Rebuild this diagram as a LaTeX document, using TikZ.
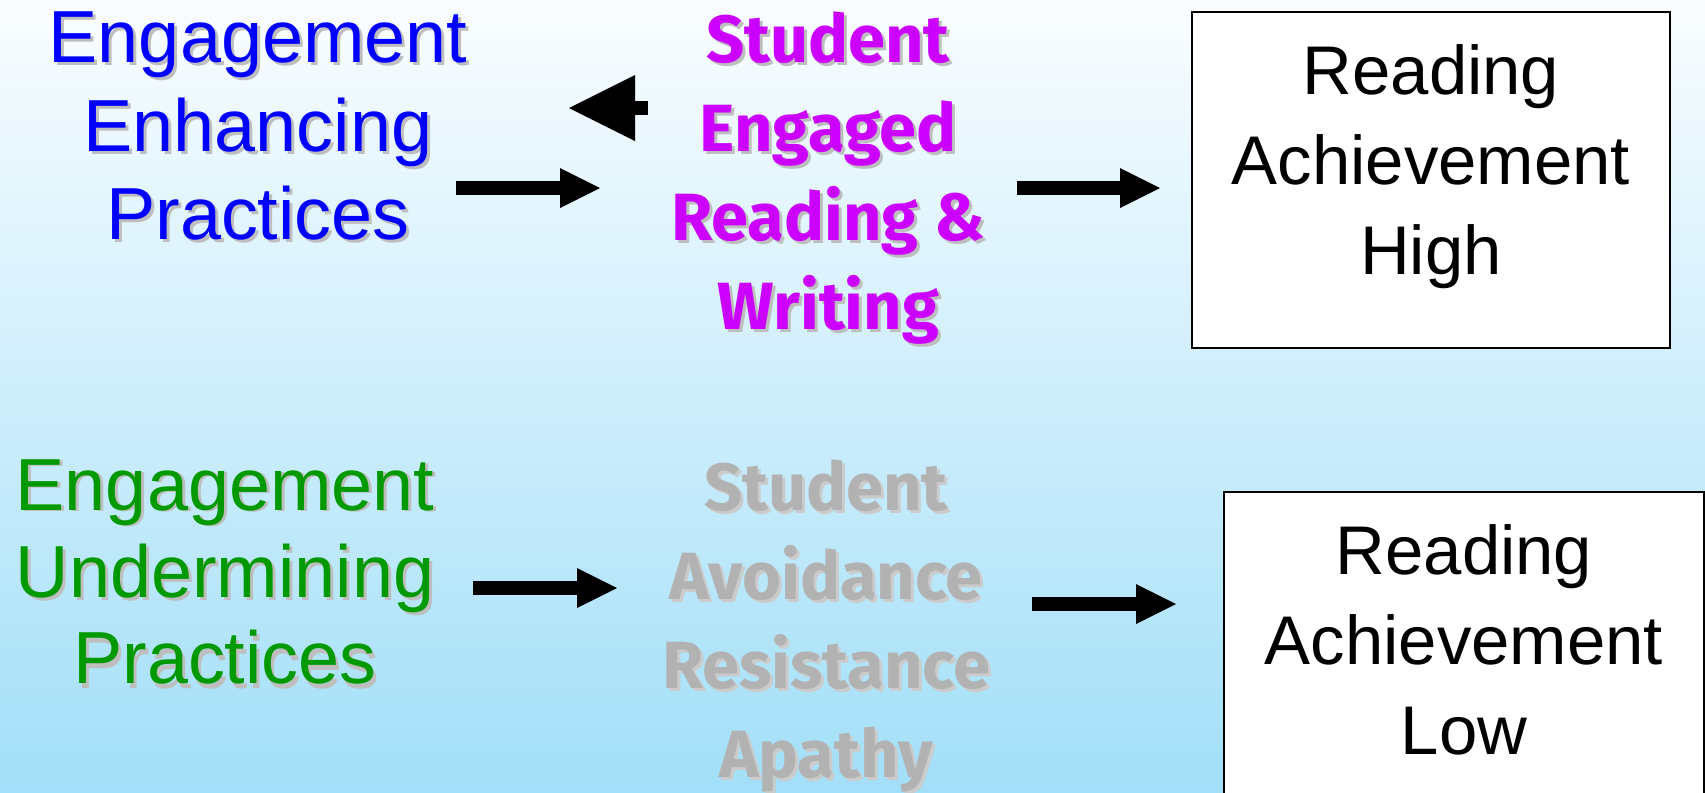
\documentclass[tikz,border=0pt]{standalone}
\usepackage{fontspec}
\setmainfont{Liberation Sans}
\newfontfamily\roundfont{Fira Sans}
\usetikzlibrary{arrows.meta}
\definecolor{blueText}{HTML}{0000FF}
\definecolor{greenText}{HTML}{009900}
\definecolor{purpleText}{HTML}{CC00FF}
\definecolor{greyText}{HTML}{B2B2B2}
\definecolor{shadowGrey}{HTML}{BEBEBE}
\definecolor{skyTop}{HTML}{FAFDFF}
\definecolor{skyBottom}{HTML}{A2DFF8}
\tikzset{
  big/.style={align=center, inner sep=0pt, font=\fontsize{21}{25.3}\selectfont},
  roundTxt/.style={align=center, inner sep=0pt, font=\roundfont\bfseries\fontsize{19}{25.3}\selectfont},
  boxTxt/.style={align=center, inner sep=0pt, font=\fontsize{19.6}{25.6}\selectfont},
  drop/.style={text=shadowGrey, xshift=0.3mm, yshift=-0.3mm},
  resultBox/.style={draw=black, fill=white, line width=0.2mm, minimum width=47.8mm, inner sep=0pt},
  fat/.style={line width=1.35mm, -{Triangle[length=4mm,width=4mm,line width=0pt]}}
}

\begin{document}
\begin{tikzpicture}[x=0.1mm, y=-0.1mm]
\useasboundingbox (0,0) rectangle (1705,792);
\clip (0,0) rectangle (1705,792);
\shade[top color=skyTop, bottom color=skyBottom] (0,0) rectangle (1705,792);

% top row
\node[big, drop] (enhanceS) at (258,126) {Engagement\\Enhancing\\Practices};
\node[big, text=blueText] (enhance) at (258,126) {Engagement\\Enhancing\\Practices};
\node[roundTxt, drop] (engagedS) at (828,178) {Student\\Engaged\\Reading \&\\Writing};
\node[roundTxt, text=purpleText] (engaged) at (828,178) {Student\\Engaged\\Reading \&\\Writing};
\node[resultBox, minimum height=33.6mm] (high) at (1431,180) {};
\node[boxTxt] (highT) at (1431,167) {Reading\\Achievement\\High};

% bottom row
\node[big, drop] (undermineS) at (225,572) {Engagement\\Undermining\\Practices};
\node[big, text=greenText, font=\fontsize{21}{24.5}\selectfont] (undermine) at (225,572) {Engagement\\Undermining\\Practices};
\node[roundTxt, text=shadowGrey!80, xshift=0.3mm, yshift=-0.3mm] (avoidS) at (826,626) {Student\\Avoidance\\Resistance\\Apathy};
\node[roundTxt, text=greyText] (avoid) at (826,626) {Student\\Avoidance\\Resistance\\Apathy};
\node[resultBox, minimum width=48mm, minimum height=34mm] (low) at (1464,662) {};
\node[boxTxt] (lowT) at (1464,640) {Reading\\Achievement\\Low};

% arrows
\coordinate (a1s) at (456,188);
\coordinate (a1e) at (600,188);
\coordinate (a2s) at (1017,188);
\coordinate (a2e) at (1160,188);
\coordinate (a3s) at (473,588);
\coordinate (a3e) at (617,588);
\coordinate (a4s) at (1032,604);
\coordinate (a4e) at (1176,604);
\coordinate (b1) at (648,108);
\coordinate (b2) at (569,108);
\draw[fat] (a1s) -- (a1e);
\draw[fat] (a2s) -- (a2e);
\draw[fat] (a3s) -- (a3e);
\draw[fat] (a4s) -- (a4e);
\draw[line width=1.35mm, -{Triangle[length=6.6mm,width=6.6mm,line width=0pt]}] (b1) -- (b2);
\end{tikzpicture}
\end{document}
